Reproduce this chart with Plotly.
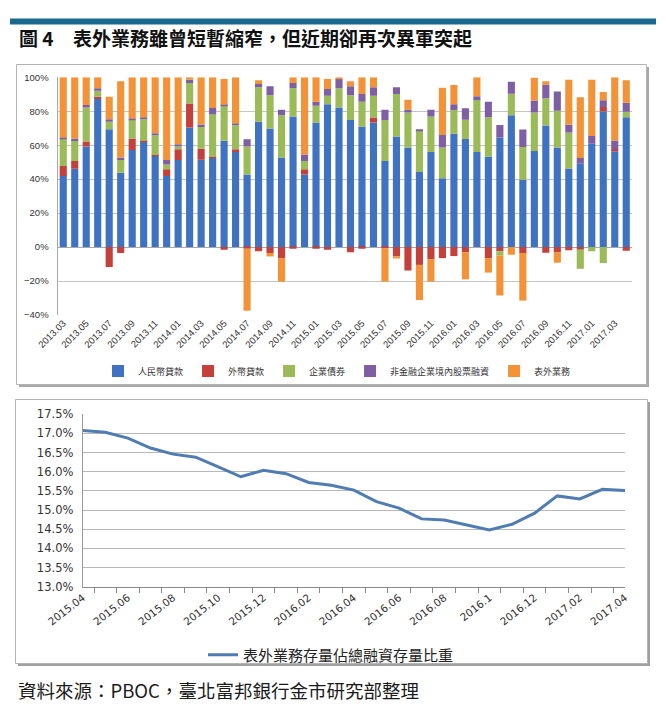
import plotly.graph_objects as go

# ---------------- data: top chart (share of monthly total social financing, %) ----------------
months = ["2013.03", "2013.04", "2013.05", "2013.06", "2013.07", "2013.08", "2013.09", "2013.10",
          "2013.11", "2013.12", "2014.01", "2014.02", "2014.03", "2014.04", "2014.05", "2014.06",
          "2014.07", "2014.08", "2014.09", "2014.10", "2014.11", "2014.12", "2015.01", "2015.02",
          "2015.03", "2015.04", "2015.05", "2015.06", "2015.07", "2015.08", "2015.09", "2015.10",
          "2015.11", "2015.12", "2016.01", "2016.02", "2016.03", "2016.04", "2016.05", "2016.06",
          "2016.07", "2016.08", "2016.09", "2016.10", "2016.11", "2016.12", "2017.01", "2017.02",
          "2017.03", "2017.04"]
top_tick_labels = ["2013.03", "2013.05", "2013.07", "2013.09", "2013.11", "2014.01", "2014.03",
                   "2014.05", "2014.07", "2014.09", "2014.11", "2015.01", "2015.03", "2015.05",
                   "2015.07", "2015.09", "2015.11", "2016.01", "2016.03", "2016.05", "2016.07",
                   "2016.09", "2016.11", "2017.01", "2017.03"]

rmb_loans = [41.8, 46.2, 59.2, 87.2, 69.4, 43.8, 57.2, 62.0, 53.6, 41.8, 51.3, 70.4, 51.5, 52.5,
             62.7, 56.0, 42.8, 73.8, 69.8, 52.7, 76.9, 42.8, 73.4, 84.2, 82.2, 74.8, 71.0, 73.4,
             50.7, 65.1, 58.6, 44.2, 56.0, 40.5, 66.8, 63.6, 56.0, 53.4, 64.5, 77.7, 39.6, 56.6,
             71.6, 58.6, 46.3, 49.1, 60.8, 79.8, 56.4, 76.4]
fx_loans = [6.0, 4.5, 3.0, 1.4, -11.8, -3.5, 6.7, 0.7, 0.6, 4.0, 6.3, 14.2, 6.4, 0.6, -1.5, 1.6,
            -1.0, -2.5, -3.5, -6.5, -1.0, 3.0, -1.0, -1.5, 0.0, -3.0, -1.0, 2.9, -0.8, -5.5,
            -13.8, -10.5, -7.1, -6.5, -5.3, -3.0, 0.0, -6.5, -2.5, 0.0, -3.5, 0.0, -3.3, -3.2,
            -1.8, -1.5, 0.0, 2.7, 1.4, -2.2]
corp_bonds = [15.8, 11.8, 20.0, 3.5, 4.4, 7.5, 10.9, 12.6, 11.7, 2.9, 1.6, 12.0, 12.8, 25.0,
              20.7, 14.2, 16.4, 20.3, 19.7, 25.0, 16.6, 4.9, 9.8, 4.9, 11.3, 14.7, 14.6, 12.8,
              24.1, 25.0, 20.7, 24.2, 20.9, 18.2, 13.9, 11.4, 30.6, 23.0, -2.5, 12.6, 19.4, 22.7,
              16.0, 21.7, 21.2, -11.3, -2.5, -9.4, 0.0, 3.3]
equity = [1.0, 1.5, 1.5, 1.5, 1.5, 1.4, 1.0, 1.2, 1.1, 2.6, 1.3, 2.0, 1.5, 3.8, 0.6, 1.0, 4.3,
          2.0, 5.2, 3.2, 3.1, 3.9, 2.4, 4.0, 5.5, 5.2, 4.5, 5.0, 6.1, 4.0, 1.6, 1.0, 4.0, 7.3,
          3.5, 6.7, 2.2, 9.2, 7.4, 7.1, 10.2, 7.1, 8.1, 11.3, 4.5, 3.3, 4.6, 4.0, 5.0, 5.3]
off_balance = [35.4, 36.0, 16.3, 6.4, 13.3, 45.0, 24.2, 23.5, 33.0, 48.7, 39.5, 1.4, 27.8, 18.1,
               15.0, 27.2, -36.5, 2.2, -2.0, -13.8, 3.4, 45.4, 14.4, 5.9, 1.0, 2.9, 9.9, 5.9,
               -19.5, -1.2, 5.9, -20.7, -13.2, 27.8, 11.3, -16.0, 11.2, -8.5, -23.5, -4.5, -28.0,
               13.3, 2.0, -6.0, 26.6, 35.9, 33.2, 4.8, 37.2, 13.3]

series_names = ["人民幣貸款", "外幣貸款", "企業債券", "非金融企業境內股票融資", "表外業務"]
series_values = [rmb_loans, fx_loans, corp_bonds, equity, off_balance]
series_colors = ["#3F72C0", "#C4403A", "#9BBB59", "#7E5FA3", "#F39237"]

# ---------------- data: bottom chart (off-balance stock / total financing stock, %) ----------------
line_months = ["2015.04", "2015.05", "2015.06", "2015.07", "2015.08", "2015.09", "2015.10",
               "2015.11", "2015.12", "2016.01", "2016.02", "2016.03", "2016.04", "2016.05",
               "2016.06", "2016.07", "2016.08", "2016.09", "2016.10", "2016.11", "2016.12",
               "2017.01", "2017.02", "2017.03", "2017.04"]
line_tick_labels = ["2015.04", "2015.06", "2015.08", "2015.10", "2015.12", "2016.02", "2016.04",
                    "2016.06", "2016.08", "2016.1", "2016.12", "2017.02", "2017.04"]
ratio = [17.08, 17.03, 16.88, 16.62, 16.46, 16.38, 16.13, 15.87, 16.04, 15.95, 15.72, 15.65,
         15.52, 15.22, 15.05, 14.77, 14.74, 14.61, 14.48, 14.63, 14.92, 15.37, 15.29, 15.54, 15.51]
line_name = "表外業務存量佔總融資存量比重"

# The page body has an 8px margin, so the figure is drawn 8px in from the window's edge.
OFF = 8
W, H = 666 - 2 * OFF, 711 - 2 * OFF
CJK = "Noto Sans CJK TC"


def px_x(p):
    return (p - OFF) / W


def px_y(p):
    return 1 - (p - OFF) / H


fig = go.Figure()
for name, vals, col in zip(series_names, series_values, series_colors):
    fig.add_trace(go.Bar(x=months, y=vals, name=name, marker=dict(color=col, line=dict(width=0)),
                         xaxis="x", yaxis="y", legend="legend"))

fig.add_trace(go.Scatter(x=line_months, y=ratio, mode="lines", name=line_name,
                         line=dict(color="#4F7CB2", width=3), xaxis="x2", yaxis="y2",
                         legend="legend2"))

# tick text: label every other category
top_ticktext = [m if m in top_tick_labels else "" for m in months]
line_ticktext = []
j = 0
for i, m in enumerate(line_months):
    if i % 2 == 0:
        line_ticktext.append(line_tick_labels[j])
        j += 1
    else:
        line_ticktext.append("")

shapes = [
    # header bar
    dict(type="rect", xref="paper", yref="paper", x0=px_x(10), x1=px_x(656), y0=px_y(24.5),
         y1=px_y(18.5), fillcolor="#1A6890", line=dict(width=0), layer="below"),
    # top box shadow + box
    dict(type="rect", xref="paper", yref="paper", x0=px_x(19), x1=px_x(649), y0=px_y(387),
         y1=px_y(67), fillcolor="#a8a8a8", line=dict(width=0), layer="below"),
    dict(type="rect", xref="paper", yref="paper", x0=px_x(16.5), x1=px_x(646.5), y0=px_y(384.5),
         y1=px_y(64.5), fillcolor="white", line=dict(color="#b4b4b4", width=1), layer="below"),
    # bottom box shadow + box
    dict(type="rect", xref="paper", yref="paper", x0=px_x(18), x1=px_x(650), y0=px_y(666),
         y1=px_y(402), fillcolor="#a0a0a0", line=dict(width=0), layer="below"),
    dict(type="rect", xref="paper", yref="paper", x0=px_x(15.5), x1=px_x(647.5), y0=px_y(663.5),
         y1=px_y(399.5), fillcolor="white", line=dict(color="#b4b4b4", width=1), layer="below"),
]

annotations = [
    dict(text="<b>圖 4</b>", x=px_x(17), y=px_y(38), xref="paper", yref="paper", xanchor="left",
         yanchor="middle", showarrow=False, font=dict(family=CJK, size=19, color="#111")),
    dict(text="<b>表外業務雖曾短暫縮窄，但近期卻再次異軍突起</b>", x=px_x(71), y=px_y(38),
         xref="paper", yref="paper", xanchor="left", yanchor="middle", showarrow=False,
         font=dict(family=CJK, size=19, color="#111")),
    dict(text="資料來源：PBOC，臺北富邦銀行金市研究部整理", x=px_x(16), y=px_y(690), xref="paper",
         yref="paper", xanchor="left", yanchor="middle", showarrow=False,
         font=dict(family=CJK, size=18.5, color="#1a1a1a")),
]

fig.update_layout(
    width=W, height=H, autosize=False,
    margin=dict(l=0, r=0, t=0, b=0),
    paper_bgcolor="white", plot_bgcolor="rgba(0,0,0,0)",
    barmode="relative", bargap=0.38,
    shapes=shapes, annotations=annotations,
    xaxis=dict(domain=[px_x(57.5), px_x(632)], anchor="y", type="category",
               tickmode="array", tickvals=months, ticktext=top_ticktext, tickangle=-45,
               tickfont=dict(family="Liberation Sans", size=9.5, color="#333"),
               showgrid=False, showline=False, ticks="", automargin=False),
    yaxis=dict(domain=[px_y(315), px_y(77.3)], anchor="x", range=[-40, 100], dtick=20,
               ticksuffix="%", tickfont=dict(family="Liberation Sans", size=9.5, color="#333"),
               showgrid=True, gridcolor="#c4c4c4", gridwidth=1, showline=True,
               linecolor="#a8a8a8", zeroline=True, zerolinecolor="#a8a8a8", zerolinewidth=1,
               ticks="", ticklabelstandoff=6, automargin=False),
    xaxis2=dict(domain=[px_x(82.7), px_x(625)], anchor="y2", type="category",
                tickmode="array", tickvals=line_months, ticktext=line_ticktext, tickangle=-38,
                tickfont=dict(family="DejaVu Sans", size=10.5, color="#333"),
                ticks="outside", tickson="boundaries", ticklen=5, tickcolor="#888",
                showgrid=False, showline=True, linecolor="#888", automargin=False),
    yaxis2=dict(domain=[px_y(586.7), px_y(414.3)], anchor="x2", range=[13, 17.5], dtick=0.5,
                tickformat=".1f", ticksuffix="%",
                tickfont=dict(family="DejaVu Sans", size=11.5, color="#333"),
                showgrid=True, gridcolor="#b8b8b8", gridwidth=1, showline=True,
                linecolor="#999", zeroline=False, ticks="", ticklabelstandoff=6,
                automargin=False),
    legend=dict(orientation="h", x=px_x(337), xanchor="center", y=px_y(371), yanchor="middle",
                font=dict(family=CJK, size=9, color="#333"), bgcolor="rgba(0,0,0,0)",
                traceorder="normal", itemwidth=30, tracegroupgap=0),
    legend2=dict(orientation="h", x=px_x(331), xanchor="center", y=px_y(655), yanchor="middle",
                 font=dict(family=CJK, size=15, color="#222"), bgcolor="rgba(0,0,0,0)"),
)

fig.write_html("out.html")
